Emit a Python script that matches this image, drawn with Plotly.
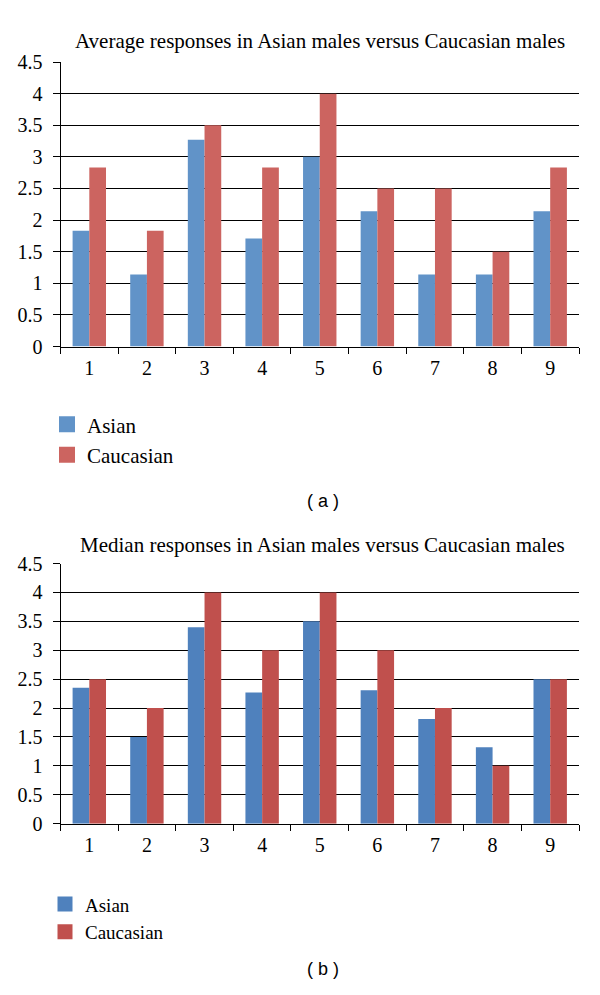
import plotly.graph_objects as go

categories = ["1", "2", "3", "4", "5", "6", "7", "8", "9"]
avg_asian = [1.83, 1.14, 3.27, 1.71, 3.0, 2.14, 1.14, 1.14, 2.14]
avg_caucasian = [2.83, 1.83, 3.5, 2.83, 4.0, 2.5, 2.5, 1.5, 2.83]
med_asian = [2.35, 1.5, 3.4, 2.27, 3.5, 2.31, 1.81, 1.32, 2.5]
med_caucasian = [2.5, 2.0, 4.0, 3.0, 4.0, 3.0, 2.0, 1.0, 2.5]
series_names = ["Asian", "Caucasian"]
title_a = "Average responses in Asian males versus Caucasian males"
title_b = "Median responses in Asian males versus Caucasian males"
y_ticks = [0, 0.5, 1, 1.5, 2, 2.5, 3, 3.5, 4, 4.5]

col_a = ["#6193C8", "#CC6460"]
col_b = ["#4F81BD", "#C0504D"]

SERIF = "Liberation Serif"

# the page body has an 8px default margin; lay out in window pixels
OFF = 8
W, H = 600 - OFF, 995 - OFF


def px(x):
    return (x - OFF) / W


def py(y):
    return 1 - (y - OFF) / H


fig = go.Figure()

for i, (vals, c) in enumerate(zip([avg_asian, avg_caucasian], col_a)):
    fig.add_trace(go.Bar(x=categories, y=vals, marker=dict(color=c, line=dict(width=0)),
                         name=series_names[i], xaxis="x", yaxis="y", showlegend=False))
    fig.add_trace(go.Scatter(x=[None], y=[None], mode="markers", name=series_names[i],
                             marker=dict(symbol="square", size=16, color=c),
                             xaxis="x", yaxis="y", legend="legend"))
for i, (vals, c) in enumerate(zip([med_asian, med_caucasian], col_b)):
    fig.add_trace(go.Bar(x=categories, y=vals, marker=dict(color=c, line=dict(width=0)),
                         name=series_names[i], xaxis="x2", yaxis="y2", showlegend=False))
    fig.add_trace(go.Scatter(x=[None], y=[None], mode="markers", name=series_names[i],
                             marker=dict(symbol="square", size=15, color=c),
                             xaxis="x2", yaxis="y2", legend="legend2"))

xdom = [px(60.5), px(579)]
ytop = [py(343), py(52)]
ybot = [py(831), py(565)]

xax = dict(type="category", categoryorder="array", categoryarray=categories,
           showline=True, linecolor="black", linewidth=1, ticks="outside", tickson="boundaries",
           ticklen=6, tickcolor="black", tickwidth=1, showgrid=False,
           tickfont=dict(family=SERIF, size=20, color="black"), ticklabelstandoff=3,
           domain=xdom, fixedrange=True)
yax = dict(range=[0, 4.5], tickvals=y_ticks, showline=True, linecolor="black", linewidth=1,
           ticks="outside", ticklen=7, tickcolor="black", tickwidth=1,
           showgrid=True, gridcolor="black", gridwidth=1, zeroline=False,
           tickfont=dict(family=SERIF, size=20, color="black"), ticklabelstandoff=6,
           fixedrange=True)

fig.update_layout(
    width=W, height=H,
    margin=dict(l=0, r=0, t=0, b=0),
    paper_bgcolor="white", plot_bgcolor="white",
    barmode="group", bargap=0.42, bargroupgap=0,
    xaxis=dict(xax, anchor="y"),
    yaxis=dict(yax, domain=ytop, anchor="x"),
    xaxis2=dict(xax, anchor="y2"),
    yaxis2=dict(yax, domain=ybot, anchor="x2"),
    legend=dict(x=px(47), y=py(402), xanchor="left", yanchor="top",
                font=dict(family=SERIF, size=21, color="black"), bgcolor="rgba(0,0,0,0)",
                tracegroupgap=0, itemclick=False),
    legend2=dict(x=px(45), y=py(894), xanchor="left", yanchor="top",
                 font=dict(family=SERIF, size=19, color="black"), bgcolor="rgba(0,0,0,0)",
                 tracegroupgap=0, itemclick=False),
    showlegend=True,
    annotations=[
        dict(text=title_a, x=px(320), y=py(31), xref="paper", yref="paper",
             showarrow=False, font=dict(family=SERIF, size=21, color="black"),
             xanchor="center", yanchor="middle"),
        dict(text=title_b, x=px(322), y=py(546), xref="paper", yref="paper",
             showarrow=False, font=dict(family=SERIF, size=21, color="black"),
             xanchor="center", yanchor="middle"),
        dict(text="( a )", x=px(323), y=py(501), xref="paper", yref="paper",
             showarrow=False, font=dict(family="Liberation Sans", size=18, color="black"),
             xanchor="center", yanchor="middle"),
        dict(text="( b )", x=px(323), y=py(980), xref="paper", yref="paper",
             showarrow=False, font=dict(family="Liberation Sans", size=18, color="black"),
             xanchor="center", yanchor="middle"),
    ],
)

fig.write_html("out.html")
